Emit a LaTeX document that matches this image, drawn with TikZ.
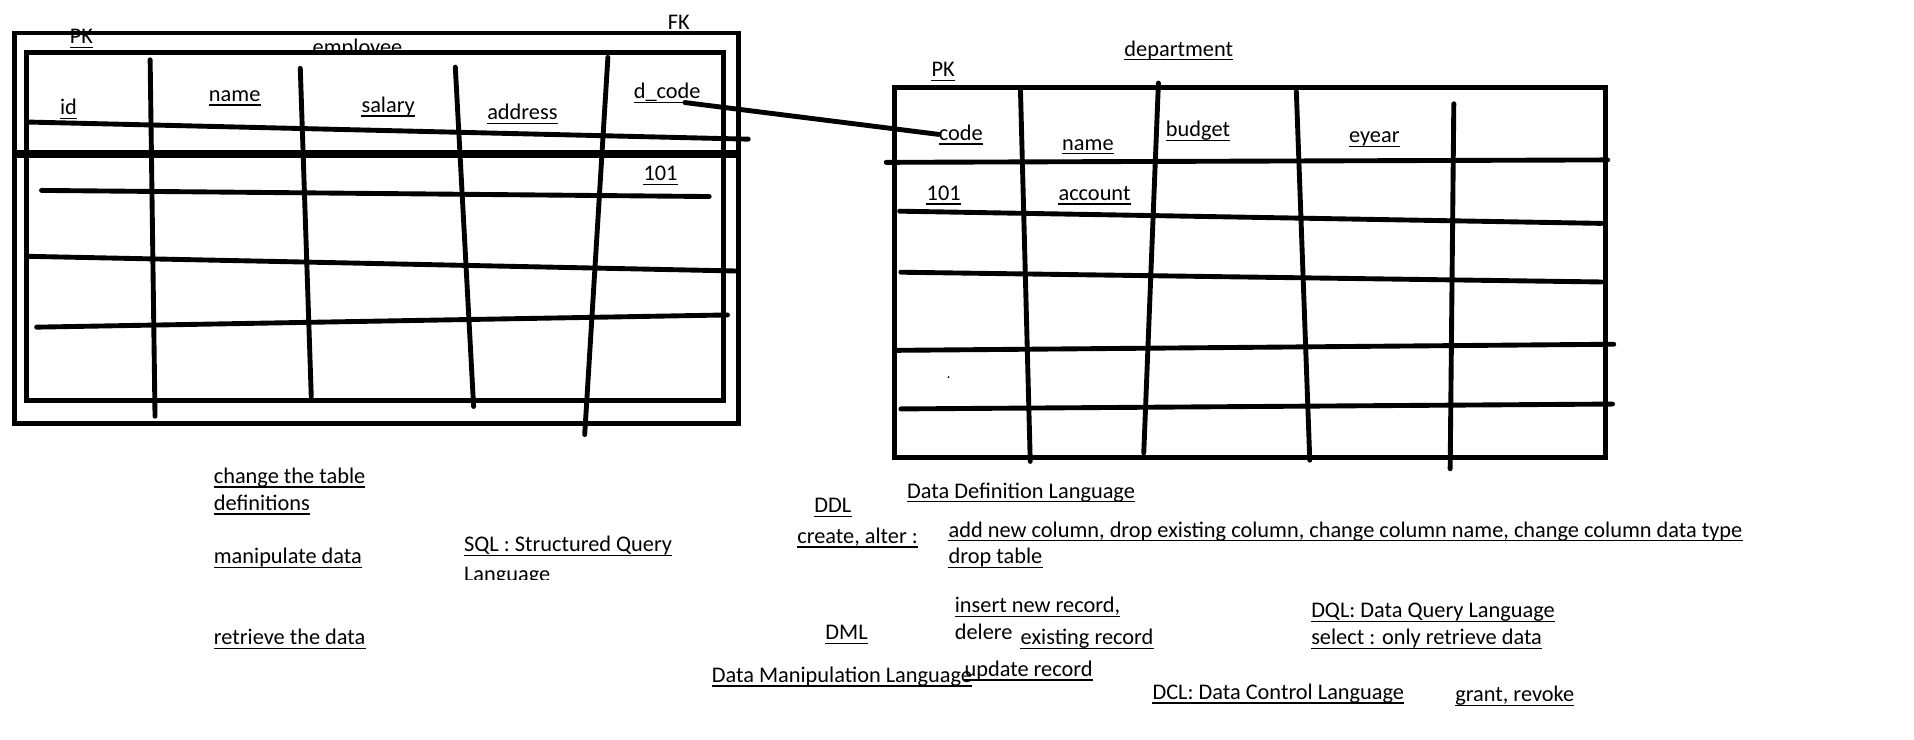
\documentclass[tikz,border=0pt]{standalone}
\usepackage{fontspec}
\setmainfont{Carlito}
\usepackage{tikz}
\usetikzlibrary{calc}
\tikzstyle{pen}   = [line width=4pt, line cap=round]
\tikzstyle{frame} = [line width=4pt]
\tikzstyle{lbl}   = [anchor=base west, inner sep=0pt, yshift=-1pt, font=\fontsize{18.3}{22}\selectfont]
\tikzstyle{uline} = [line width=1.1pt]

\begin{document}
\begin{tikzpicture}[x=1pt, y=-1pt]
  \useasboundingbox (0,0) rectangle (1568,606);

  % column names and values
  \foreach \n/\x/\y/\t in {epk/57/35/PK, efk/547/23/FK, eid/49/93/id, ename/171/82/name, esal/296/91/salary, eaddr/399/97/address, dcode/519/80/d\_code, eval/527/147/101,
      dpk/763/62/PK, dept/921/45/department, code/769/114/code, dname/870/122/name, dbud/955/111/budget, deyr/1105/116/eyear, dval/759/163/101, dacc/867/163/account} {
    \node[lbl] (\n) at (\x,\y) {\t};
    \draw[uline] ([yshift=-3pt]\n.base west) -- ([yshift=-3pt]\n.base east);
  }
  \begin{scope}
    \clip (0,0) rectangle (1568,43);
    \node[lbl] (emp) at (256,44) {employee};
    \draw[uline] ([yshift=-3pt]emp.base west) -- ([yshift=-3pt]emp.base east);
  \end{scope}

  % notes
  \foreach \n/\x/\y/\t in {chg/175/395/change the table, defs/175/417/definitions, manip/175/461/manipulate data, retr/175/527/retrieve the data,
      sql/380/451/SQL : Structured Query, ddl/667/419/DDL, ddlname/743/407/Data Definition Language, create/653/444/{create, alter :},
      ddlops/777/439/{add new column, drop existing column, change column name, change column data type}, drop/777/461/drop table,
      ins/782/501/{insert new record,}, exist/836/527/existing record, dml/676/523/DML, dmlname/583/558/Data Manipulation Language,
      upd/790/553/update record, dql/1074/505/DQL: Data Query Language, sel/1074/527/select : only retrieve data,
      dcl/944/572/DCL: Data Control Language, grant/1192/574/{grant, revoke}} {
    \node[lbl] (\n) at (\x,\y) {\t};
    \draw[uline] ([yshift=-3pt]\n.base west) -- ([yshift=-3pt]\n.base east);
  }
  \node[lbl] (del) at (782,523) {delere};
  \begin{scope}
    \clip (0,0) rectangle (1568,475);
    \node[lbl] (sqllang) at (380,475) {Language};
  \end{scope}

  % employee table
  \draw[frame] (12,27) rectangle (605,347);
  \draw[frame] (22,43) rectangle (593,328);
  \draw[line width=7pt] (10,126) -- (605,126);
  \foreach \xa/\ya/\xb/\yb in {24/100/613/114, 34/156/581/161, 24/210/603/222, 30/268/596/258,
      123/49/127/341, 246/56/255/325, 373/55/388/333, 498/47/479/356}
    \draw[pen] (\xa,\ya) -- (\xb,\yb);

  % department table
  \draw[frame] (733,72) rectangle (1315,375);
  \foreach \xa/\ya/\xb/\yb in {726/133/1317/131, 737/173/1312/183, 738/223/1312/231, 735/287/1322/282, 738/335/1321/331,
      836/74/844/378, 949/68/937/371, 1062/75/1073/377, 1191/85/1188/384}
    \draw[pen] (\xa,\ya) -- (\xb,\yb);
  \fill (777,309) circle (0.8);

  % foreign key
  \draw[pen] ([xshift=-13pt,yshift=-3pt]dcode.base east) -- ([yshift=-8pt]code.north west);
\end{tikzpicture}
\end{document}
